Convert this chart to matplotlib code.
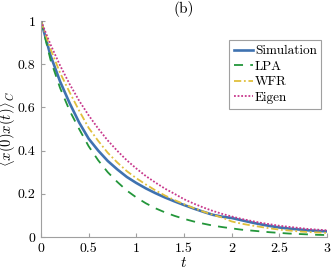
import matplotlib
matplotlib.use('Agg')
import matplotlib.pyplot as plt
import numpy as np

# time grid and curves
t = [0.0, 0.1, 0.2, 0.3, 0.4, 0.5, 0.6, 0.7, 0.8, 0.9, 1.0,
     1.1, 1.2, 1.3, 1.4, 1.5, 1.6, 1.7, 1.8, 1.9, 2.0,
     2.1, 2.2, 2.3, 2.4, 2.5, 2.6, 2.7, 2.8, 2.9, 3.0]

simulation = [1.0, 0.84, 0.72, 0.62, 0.53, 0.455, 0.40, 0.352, 0.313, 0.278, 0.25,
              0.225, 0.203, 0.183, 0.165, 0.148, 0.132, 0.117, 0.103, 0.094, 0.088,
              0.078, 0.068, 0.059, 0.051, 0.044, 0.039, 0.035, 0.031, 0.028, 0.026]

lpa = [1.0, 0.82, 0.69, 0.585, 0.50, 0.42, 0.355, 0.30, 0.255, 0.215, 0.183,
       0.156, 0.133, 0.114, 0.098, 0.084, 0.072, 0.062, 0.053, 0.046, 0.040,
       0.034, 0.030, 0.026, 0.022, 0.019, 0.016, 0.014, 0.012, 0.010, 0.009]

wfr = [1.0, 0.87, 0.76, 0.67, 0.585, 0.505, 0.445, 0.39, 0.345, 0.305, 0.272,
       0.243, 0.216, 0.192, 0.171, 0.152, 0.134, 0.118, 0.103, 0.09, 0.072,
       0.062, 0.054, 0.047, 0.040, 0.034, 0.030, 0.026, 0.023, 0.021, 0.019]

eigen = [1.0, 0.891, 0.794, 0.708, 0.631, 0.563, 0.502, 0.447, 0.399, 0.355, 0.317,
         0.282, 0.252, 0.224, 0.20, 0.175, 0.155, 0.137, 0.121, 0.107, 0.095,
         0.084, 0.075, 0.066, 0.059, 0.052, 0.047, 0.042, 0.037, 0.034, 0.031]

xticks = [0, 0.5, 1, 1.5, 2, 2.5, 3]
xtick_labels = ['0', '0.5', '1', '1.5', '2', '2.5', '3']
yticks = [0, 0.2, 0.4, 0.6, 0.8, 1]
ytick_labels = ['0', '0.2', '0.4', '0.6', '0.8', '1']

plt.rcParams['font.family'] = 'serif'
plt.rcParams['font.serif'] = ['cmr10']
plt.rcParams['mathtext.fontset'] = 'cm'
plt.rcParams['axes.formatter.use_mathtext'] = True

fig = plt.figure(figsize=(3.32, 2.72), dpi=100)
ax = fig.add_axes([0.1235, 0.1287, 0.8615, 0.7941])

ax.plot(t, simulation, color='#3f72b0', lw=1.9, label='Simulation')
ax.plot(t, lpa, color='#23963a', lw=1.3, ls=(0, (5, 4)), label='LPA')
ax.plot(t, wfr, color='#e0bf3c', lw=1.3, ls=(0, (4, 1.5, 1, 1.5)), label='WFR')
ax.plot(t, eigen, color='#c8388c', lw=1.3, ls=(0, (1, 1)), label='Eigen')

ax.set_xlim(0, 3)
ax.set_ylim(0, 1)
ax.set_xticks(xticks)
ax.set_xticklabels(xtick_labels)
ax.set_yticks(yticks)
ax.set_yticklabels(ytick_labels)

# only left/bottom axes, gray, ticks pointing in
for side in ['top', 'right']:
    ax.spines[side].set_visible(False)
for side in ['left', 'bottom']:
    ax.spines[side].set_color('#a0a0a0')
ax.tick_params(direction='in', length=3, color='#a0a0a0', labelsize=10, pad=4)

ax.set_xlabel('$t$', fontsize=11, labelpad=1)
ax.set_ylabel(r'$\langle x(0)x(t)\rangle_C$', fontsize=10.5)
ax.yaxis.set_label_coords(-0.08, 0.5)
ax.set_title('(b)', fontsize=11, pad=6)

leg = ax.legend(loc='upper right', bbox_to_anchor=(0.98, 0.91), fontsize=9.5,
                fancybox=False, edgecolor='#a0a0a0', framealpha=1,
                handlelength=1.5, handletextpad=0.1, borderpad=0.35,
                labelspacing=0.25, borderaxespad=0)
leg.get_frame().set_linewidth(0.8)

fig.savefig('out.png', dpi=100)
